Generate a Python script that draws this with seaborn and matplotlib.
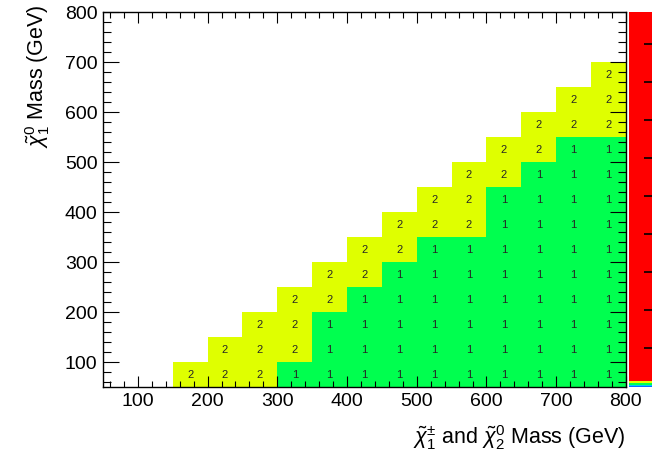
import numpy as np
import pandas as pd
import matplotlib
matplotlib.use("Agg")
import matplotlib.pyplot as plt
from matplotlib.colors import ListedColormap
import seaborn as sns

# ---- data (bin low edges in GeV) ----
x_bin_edges = [50, 100, 150, 200, 250, 300, 350, 400, 450, 500, 550, 600, 650, 700, 750]
y_bin_edges = [50, 100, 150, 200, 250, 300, 350, 400, 450, 500, 550, 600, 650, 700, 750]

# chargino/neutralino2 mass columns that have entries
chargino_mass = [150, 200, 250, 300, 350, 400, 450, 500, 550, 600, 650, 700, 750]
# cell values in each column, starting at the neutralino1 = 50 GeV bin
col_150 = [2]
col_200 = [2, 2]
col_250 = [2, 2, 2]
col_300 = [1, 2, 2, 2]
col_350 = [1, 1, 1, 2, 2]
col_400 = [1, 1, 1, 1, 2, 2]
col_450 = [1, 1, 1, 1, 1, 2, 2]
col_500 = [1, 1, 1, 1, 1, 1, 2, 2]
col_550 = [1, 1, 1, 1, 1, 1, 2, 2, 2]
col_600 = [1, 1, 1, 1, 1, 1, 1, 1, 2, 2]
col_650 = [1, 1, 1, 1, 1, 1, 1, 1, 1, 2, 2]
col_700 = [1, 1, 1, 1, 1, 1, 1, 1, 1, 1, 2, 2]
col_750 = [1, 1, 1, 1, 1, 1, 1, 1, 1, 1, 2, 2, 2]
columns = [col_150, col_200, col_250, col_300, col_350, col_400, col_450,
           col_500, col_550, col_600, col_650, col_700, col_750]

x_tick_values = [100, 200, 300, 400, 500, 600, 700, 800]
y_tick_values = [100, 200, 300, 400, 500, 600, 700, 800]
z_tick_values = [20, 40, 60, 80, 100, 120, 140, 160, 180]

xlabel = r"$\tilde{\chi}_{1}^{\pm}$ and $\tilde{\chi}_{2}^{0}$ Mass (GeV)"
ylabel = r"$\tilde{\chi}_{1}^{0}$ Mass (GeV)"

# ---- build grid ----
grid = pd.DataFrame(np.nan, index=y_bin_edges, columns=x_bin_edges)
for mx, vals in zip(chargino_mass, columns):
    for i, v in enumerate(vals):
        grid.loc[y_bin_edges[i], mx] = v

# ---- style ----
plt.rcParams["font.family"] = ["Liberation Sans", "DejaVu Sans"]
plt.rcParams["mathtext.fontset"] = "custom"
plt.rcParams["mathtext.rm"] = "Liberation Sans"
plt.rcParams["mathtext.it"] = "Liberation Sans:italic"
plt.rcParams["mathtext.bf"] = "Liberation Sans:bold"

blue, cyan, green, yellow, red = "#0a6dff", "#00c8ff", "#00ff4f", "#dfff00", "#ff0000"
palette = [blue, cyan, green, green, yellow, yellow] + [red] * 388
cmap = ListedColormap(palette)
zmin, zmax = -0.25, 197.0

fig = plt.figure(figsize=(6.52, 4.60), dpi=100)
ax = fig.add_axes([0.158, 0.1576, 0.802, 0.815])
cax = fig.add_axes([629 / 652, 0.1576, 27 / 652, 0.815])

sns.heatmap(grid, ax=ax, cmap=cmap, vmin=zmin, vmax=zmax, cbar_ax=cax,
            annot=True, fmt=".0f", annot_kws={"fontsize": 8},
            xticklabels=False, yticklabels=False, linewidths=0)

lo = x_bin_edges[0]
w = x_bin_edges[1] - x_bin_edges[0]
ax.set_xlim(0, len(x_bin_edges))
ax.set_ylim(0, len(y_bin_edges))

ax.set_xticks([(v - lo) / w for v in x_tick_values])
ax.set_xticklabels([str(v) for v in x_tick_values], fontsize=14)
ax.set_yticks([(v - lo) / w for v in y_tick_values])
ax.set_yticklabels([str(v) for v in y_tick_values], fontsize=14, rotation=0)
ax.set_xticks([(v - lo) / w for v in range(60, 800, 20)], minor=True)
ax.set_yticks([(v - lo) / w for v in range(60, 800, 20)], minor=True)

ax.tick_params(axis="x", which="major", direction="in", length=7.7, width=0.8,
               top=True, bottom=True, pad=4, colors="black")
ax.tick_params(axis="x", which="minor", direction="in", length=4, width=0.8,
               top=True, bottom=True)
ax.tick_params(axis="y", which="major", direction="in", length=11.5, width=0.8,
               left=True, right=True, pad=4, colors="black")
ax.tick_params(axis="y", which="minor", direction="in", length=5.8, width=0.8,
               left=True, right=True)
for sp in ax.spines.values():
    sp.set_visible(True)
    sp.set_color("black")
    sp.set_linewidth(1.0)

ax.set_xlabel(xlabel, fontsize=15.5, loc="right")
ax.xaxis.set_label_coords(1.0, -0.095)
ax.set_ylabel(ylabel, fontsize=15.5, loc="top")
ax.yaxis.set_label_coords(-0.098, 1.023)

cbar = ax.collections[0].colorbar
cbar.outline.set_visible(False)
cbar.set_ticks(z_tick_values)
cax.set_yticklabels([])
cax.tick_params(axis="y", direction="in", length=9, width=1.2, color="black",
                right=True, left=False)
cax.minorticks_off()

fig.savefig("out.png", dpi=100)
